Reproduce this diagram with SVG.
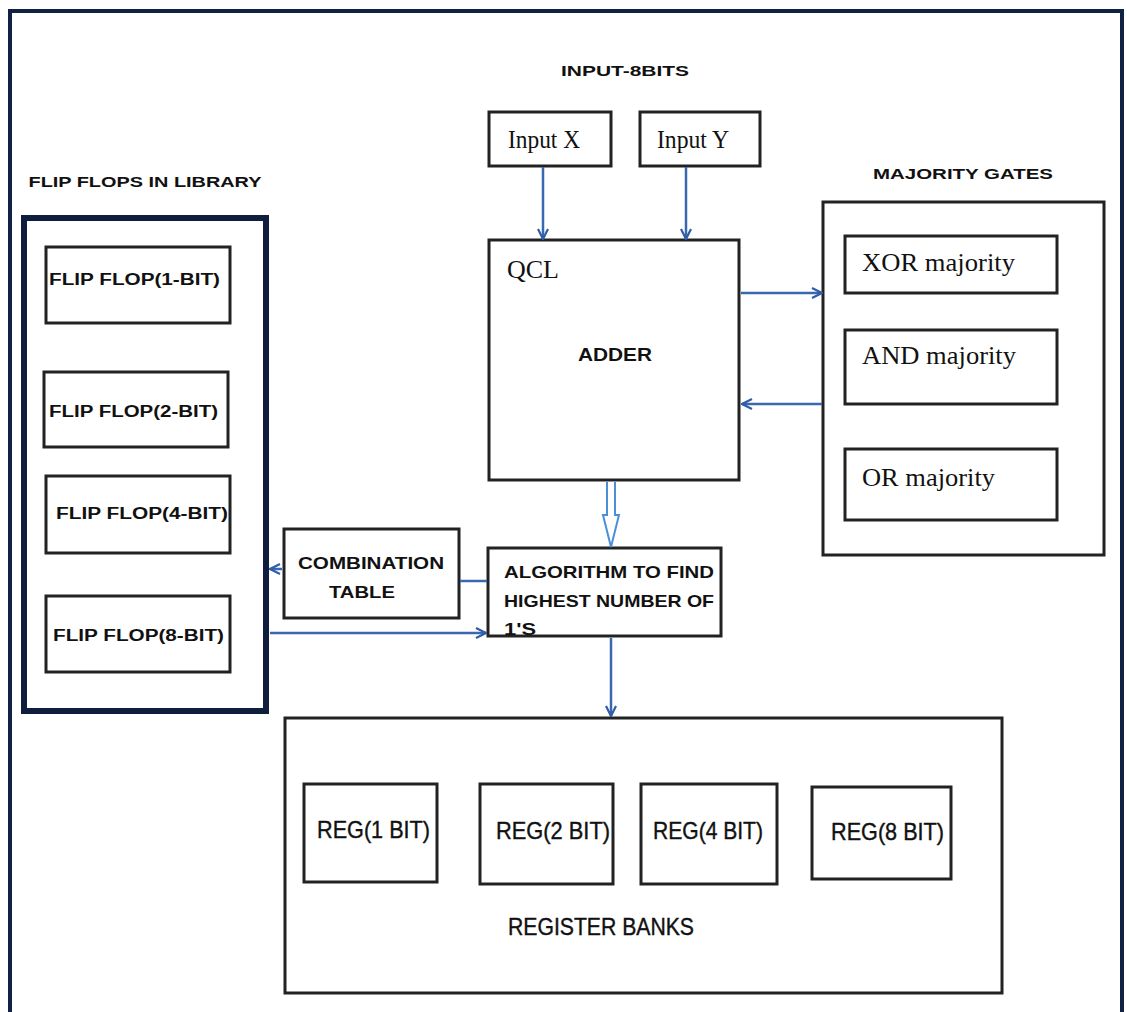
<svg xmlns="http://www.w3.org/2000/svg" width="1127" height="1012" viewBox="0 0 1127 1012">
<defs>
<marker id="ah" viewBox="0 0 12 12" refX="11" refY="6" markerWidth="12" markerHeight="12" markerUnits="userSpaceOnUse" orient="auto">
<path d="M1,1 L11,6 L1,11" fill="none" stroke="#2f5da8" stroke-width="2.2"/>
</marker>
</defs>
<style>
.box{fill:#fff;stroke:#222;stroke-width:3}
.sans{font-family:"Liberation Sans",Arial,sans-serif;font-weight:bold;fill:#111}
.reg{font-family:"Liberation Sans",Arial,sans-serif;fill:#111;font-size:24px;stroke:#111;stroke-width:0.4}
.serif{font-family:"Liberation Serif","Times New Roman",serif;fill:#111;font-size:25px}
.conn{fill:none;stroke:#3a68b0;stroke-width:2.5}
</style>
<rect x="0" y="0" width="1127" height="1012" fill="#fff"/>
<!-- outer frame -->
<path d="M10,1012 L10,11 L1122,11 L1122,1012" fill="none" stroke="#0f2244" stroke-width="4"/>

<text class="sans" x="625" y="76" font-size="15" text-anchor="middle" textLength="128" lengthAdjust="spacingAndGlyphs">INPUT-8BITS</text>
<text class="sans" x="145" y="187" font-size="15" text-anchor="middle" textLength="233" lengthAdjust="spacingAndGlyphs">FLIP FLOPS IN LIBRARY</text>
<text class="sans" x="963" y="179" font-size="15" text-anchor="middle" textLength="180" lengthAdjust="spacingAndGlyphs">MAJORITY GATES</text>

<g id="input-x"><rect class="box" x="489" y="112" width="122" height="54"/><text class="serif" x="508" y="148" textLength="72" lengthAdjust="spacingAndGlyphs">Input X</text></g>
<g id="input-y"><rect class="box" x="640" y="112" width="120" height="54"/><text class="serif" x="657" y="148" textLength="72" lengthAdjust="spacingAndGlyphs">Input Y</text></g>

<g id="qcl-adder"><rect class="box" x="489" y="240" width="250" height="240"/>
<text class="serif" x="507" y="278" textLength="52" lengthAdjust="spacingAndGlyphs">QCL</text>
<text class="sans" x="615" y="361" font-size="18" text-anchor="middle" textLength="74" lengthAdjust="spacingAndGlyphs">ADDER</text></g>

<g id="majority-gates"><rect class="box" x="823" y="202" width="281" height="353"/></g>
<g id="xor-majority"><rect class="box" x="845" y="236" width="212" height="57"/><text class="serif" x="862" y="271" textLength="153" lengthAdjust="spacingAndGlyphs">XOR majority</text></g>
<g id="and-majority"><rect class="box" x="845" y="330" width="212" height="74"/><text class="serif" x="862" y="364" textLength="154" lengthAdjust="spacingAndGlyphs">AND majority</text></g>
<g id="or-majority"><rect class="box" x="845" y="449" width="212" height="71"/><text class="serif" x="862" y="486" textLength="133" lengthAdjust="spacingAndGlyphs">OR majority</text></g>

<g id="flip-flop-library"><rect x="24" y="218" width="242" height="493" fill="#fff" stroke="#0f1e3c" stroke-width="6"/></g>
<g id="ff-1"><rect class="box" x="46" y="247" width="184" height="76"/><text class="sans" x="49" y="285" font-size="16" textLength="171" lengthAdjust="spacingAndGlyphs">FLIP FLOP(1-BIT)</text></g>
<g id="ff-2"><rect class="box" x="44" y="372" width="184" height="75"/><text class="sans" x="49" y="417" font-size="16" textLength="169" lengthAdjust="spacingAndGlyphs">FLIP FLOP(2-BIT)</text></g>
<g id="ff-4"><rect class="box" x="46" y="476" width="184" height="77"/><text class="sans" x="56" y="519" font-size="16" textLength="172" lengthAdjust="spacingAndGlyphs">FLIP FLOP(4-BIT)</text></g>
<g id="ff-8"><rect class="box" x="46" y="596" width="184" height="76"/><text class="sans" x="53" y="641" font-size="16" textLength="171" lengthAdjust="spacingAndGlyphs">FLIP FLOP(8-BIT)</text></g>

<g id="combination-table"><rect class="box" x="284" y="529" width="175" height="89"/>
<text class="sans" x="371" y="569" font-size="17" text-anchor="middle" textLength="146" lengthAdjust="spacingAndGlyphs">COMBINATION</text>
<text class="sans" x="362" y="598" font-size="17" text-anchor="middle" textLength="66" lengthAdjust="spacingAndGlyphs">TABLE</text></g>

<g id="algorithm"><rect class="box" x="488" y="548" width="233" height="88"/>
<text class="sans" x="504" y="578" font-size="17" textLength="210" lengthAdjust="spacingAndGlyphs">ALGORITHM TO FIND</text>
<text class="sans" x="504" y="607" font-size="17" textLength="210" lengthAdjust="spacingAndGlyphs">HIGHEST NUMBER OF</text>
<text class="sans" x="504" y="635" font-size="17" textLength="32" lengthAdjust="spacingAndGlyphs">1'S</text></g>

<g id="register-banks"><rect class="box" x="285" y="718" width="717" height="275"/>
<text class="reg" x="601" y="935" text-anchor="middle" textLength="186" lengthAdjust="spacingAndGlyphs">REGISTER BANKS</text></g>
<g id="reg-1"><rect class="box" x="304" y="784" width="133" height="98"/><text class="reg" x="317" y="838" textLength="113" lengthAdjust="spacingAndGlyphs">REG(1 BIT)</text></g>
<g id="reg-2"><rect class="box" x="480" y="784" width="133" height="100"/><text class="reg" x="496" y="839" textLength="114" lengthAdjust="spacingAndGlyphs">REG(2 BIT)</text></g>
<g id="reg-4"><rect class="box" x="641" y="784" width="136" height="100"/><text class="reg" x="653" y="839" textLength="110" lengthAdjust="spacingAndGlyphs">REG(4 BIT)</text></g>
<g id="reg-8"><rect class="box" x="812" y="787" width="139" height="92"/><text class="reg" x="831" y="840" textLength="113" lengthAdjust="spacingAndGlyphs">REG(8 BIT)</text></g>

<g id="connectors">
<line class="conn" x1="543" y1="167" x2="543" y2="239" marker-end="url(#ah)"/>
<line class="conn" x1="686" y1="167" x2="686" y2="239" marker-end="url(#ah)"/>
<line class="conn" x1="741" y1="293" x2="822" y2="293" marker-end="url(#ah)"/>
<line class="conn" x1="822" y1="404" x2="742" y2="404" marker-end="url(#ah)"/>
<path d="M607,482 L607,515 L603,515 L611,547 L619,515 L615,515 L615,482" fill="#fff" stroke="#4a90d9" stroke-width="2"/>
<line class="conn" x1="460" y1="581" x2="487" y2="581"/>
<line class="conn" x1="282" y1="569" x2="270" y2="569" marker-end="url(#ah)"/>
<line class="conn" x1="270" y1="633" x2="486" y2="633" marker-end="url(#ah)"/>
<line class="conn" x1="611" y1="638" x2="611" y2="716" marker-end="url(#ah)"/>
</g>
</svg>
